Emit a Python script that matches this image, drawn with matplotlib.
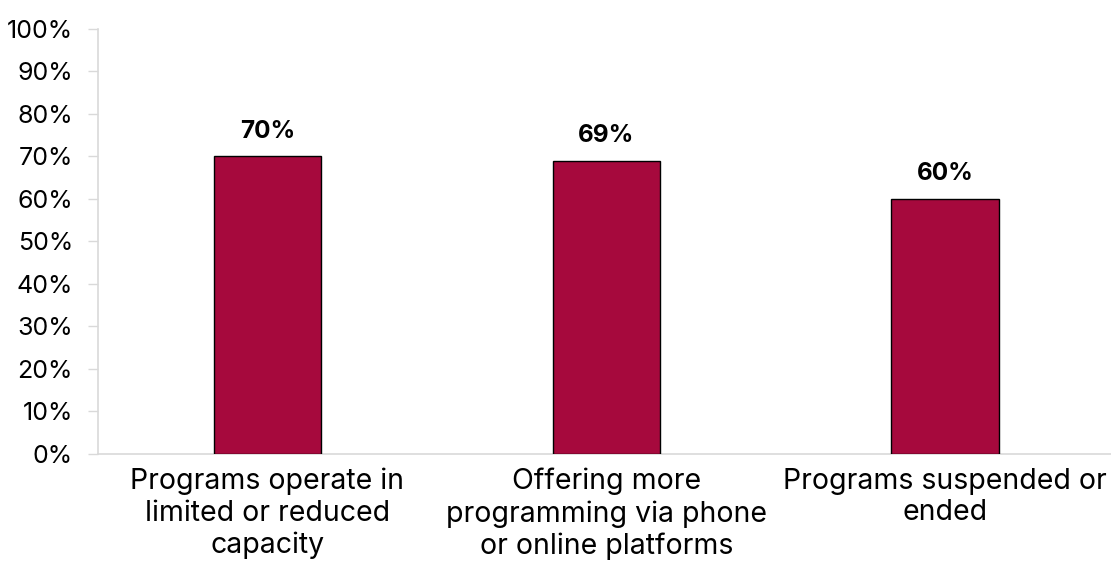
import matplotlib
matplotlib.use("Agg")
import matplotlib.pyplot as plt
from matplotlib.ticker import FuncFormatter, MultipleLocator

categories = [
    "Programs operate in\nlimited or reduced\ncapacity",
    "Offering more\nprogramming via phone\nor online platforms",
    "Programs suspended or\nended",
]
values = [0.70, 0.69, 0.60]
value_labels = ["70%", "69%", "60%"]

plt.rcParams["font.family"] = ["Inter", "DejaVu Sans"]

fig = plt.figure(figsize=(11.11, 5.73), dpi=100)
fig.patch.set_facecolor("white")
ax = fig.add_axes([0.0882, 0.2077, 0.9118, 0.7417])

xs = list(range(len(categories)))
bars = ax.bar(xs, values, width=0.316, color="#A6093D", edgecolor="black",
              linewidth=1.0, zorder=3)

for x, v, lab in zip(xs, values, value_labels):
    ax.annotate(lab, (x, v), textcoords="offset points", xytext=(0, 18),
                ha="center", va="center", fontsize=17.5, fontweight="bold",
                color="black")

ax.set_xlim(-0.5, 2.49)
ax.set_ylim(0, 1.0)
ax.yaxis.set_major_locator(MultipleLocator(0.1))
ax.yaxis.set_major_formatter(FuncFormatter(lambda v, _: f"{v * 100:.0f}%"))

ax.set_xticks(xs)
ax.set_xticklabels(categories, fontsize=20.5, linespacing=1.22)
ax.tick_params(axis="x", length=0, pad=10)
ax.tick_params(axis="y", labelsize=18, length=7, width=1, color="#d9d9d9",
               pad=11)

for side in ("top", "right"):
    ax.spines[side].set_visible(False)
ax.spines["left"].set_color("#d9d9d9")
ax.spines["bottom"].set_color("#d9d9d9")
ax.spines["left"].set_linewidth(1.2)
ax.spines["bottom"].set_linewidth(1.2)

fig.savefig("out.png", dpi=100, facecolor="white")
